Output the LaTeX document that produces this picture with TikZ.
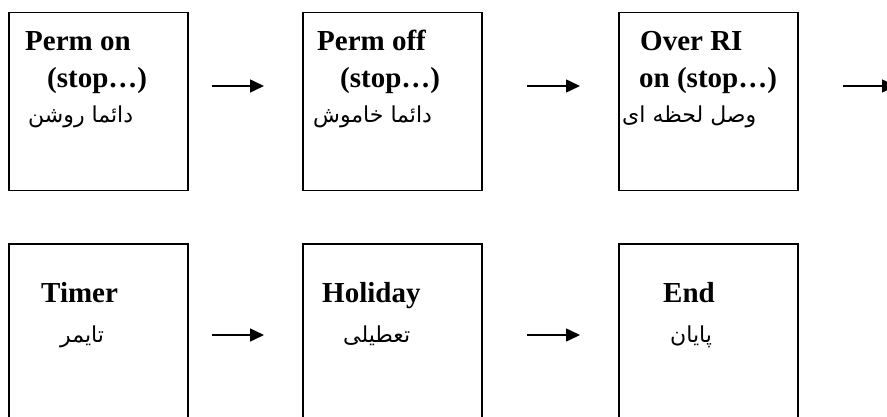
\documentclass[tikz,border=0pt]{standalone}
\usepackage{fontspec}
\setmainfont{Liberation Serif}
\newfontfamily\arabicfont[Script=Arabic]{DejaVu Sans}
\TeXXeTstate=1
\usetikzlibrary{arrows.meta}
\tikzset{
  box/.style={draw, line width=1.5pt, minimum width=179pt, anchor=north west, inner sep=0pt},
  en/.style={anchor=base west, inner sep=0pt, font=\fontsize{29}{29}\selectfont\bfseries},
  ar/.style={anchor=base west, inner sep=0pt, font=\fontsize{22}{22}\selectfont\arabicfont},
  arr/.style={line width=1.5pt, -{Triangle[length=14pt,width=13pt]}}
}
\begin{document}
\begin{tikzpicture}[x=1pt,y=-1pt]
\useasboundingbox (0,0) rectangle (887,417);
% row 1 boxes
\node[box, minimum height=178pt] (b1) at (8,12) {};
\node[box, minimum height=178pt] (b2) at (302,12) {};
\node[box, minimum height=178pt] (b3) at (618,12) {};
% row 2 boxes
\node[box, minimum height=200pt] (b4) at (8,243) {};
\node[box, minimum height=200pt] (b5) at (302,243) {};
\node[box, minimum height=200pt] (b6) at (618,243) {};
% texts
\node[en] (t1a) at (25,51) {Perm on};
\node[en] (t1b) at (47,88) {(stop…)};
\node[ar] (t1c) at (28,123) {\beginR دائما روشن\endR};
\node[en] (t2a) at (317,51) {Perm off};
\node[en] (t2b) at (340,88) {(stop…)};
\node[ar] (t2c) at (313,123) {\beginR دائما خاموش\endR};
\node[en] (t3a) at (640,51) {Over RI};
\node[en] (t3b) at (639,88) {on (stop…)};
\node[ar] (t3c) at (622,123) {\beginR وصل لحظه ای\endR};
\node[en] (t4a) at (41,302) {Timer};
\node[ar] (t4b) at (60,342) {\beginR تایمر\endR};
\node[en] (t5a) at (322,302) {Holiday};
\node[ar] (t5b) at (343,342) {\beginR تعطیلی\endR};
\node[en] (t6a) at (663,302) {End};
\node[ar] (t6b) at (670,342) {\beginR پایان\endR};
% arrows
\coordinate (a1s) at (212,86); \coordinate (a1e) at (264,86);
\coordinate (a2s) at (527,86); \coordinate (a2e) at (580,86);
\coordinate (a3s) at (843,86); \coordinate (a3e) at (896,86);
\coordinate (a4s) at (212,335); \coordinate (a4e) at (264,335);
\coordinate (a5s) at (527,335); \coordinate (a5e) at (580,335);
\draw[arr] (a1s) -- (a1e);
\draw[arr] (a2s) -- (a2e);
\draw[arr] (a3s) -- (a3e);
\draw[arr] (a4s) -- (a4e);
\draw[arr] (a5s) -- (a5e);
\end{tikzpicture}
\end{document}
